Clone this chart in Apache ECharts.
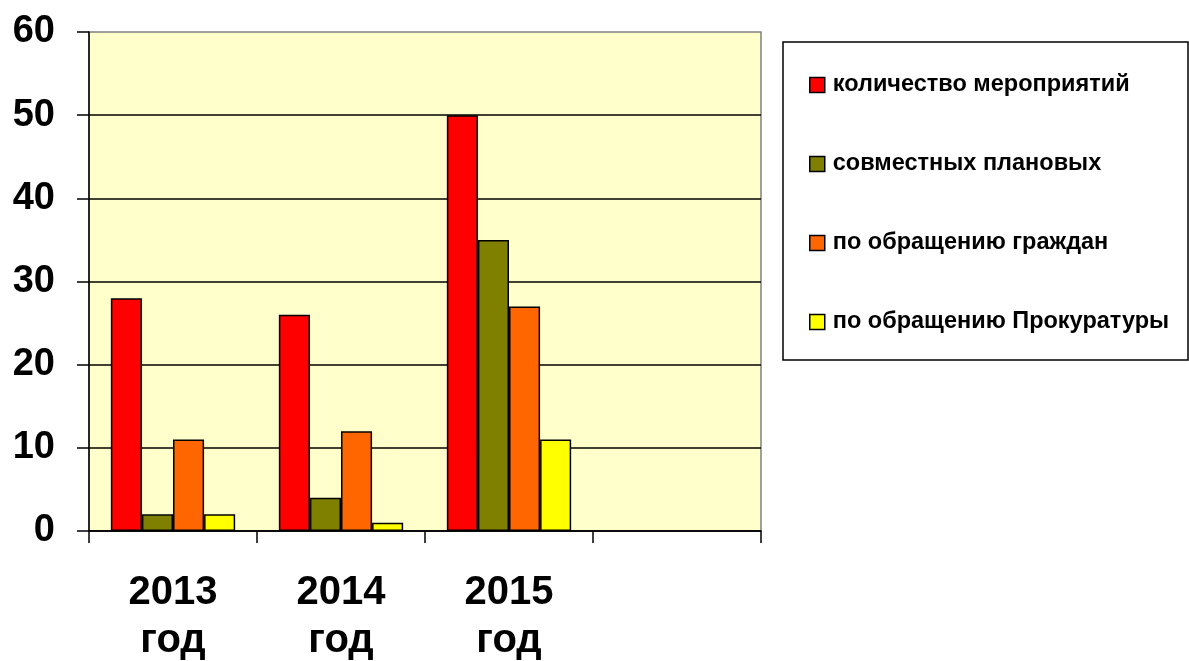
<!DOCTYPE html>
<html lang="ru">
<head>
    <meta charset="UTF-8">
    <title>Мероприятия</title>
    <style>
        html, body { margin: 0; padding: 0; background: #fff; }
        #chart { width: 1189px; height: 661px; }
    </style>
</head>
<body>
<div id="chart"></div>
<script type="text/javascript" src="https://cdn.jsdelivr.net/npm/echarts@6/dist/echarts.min.js"></script>
<script type="text/javascript">
    var categories = ['2013\nгод', '2014\nгод', '2015\nгод', ''];
    var seriesNames = ['количество мероприятий', 'совместных плановых', 'по обращению граждан', 'по обращению Прокуратуры'];
    var events = [28, 26, 50, null];
    var planned = [2, 4, 35, null];
    var citizens = [11, 12, 27, null];
    var prosecutor = [2, 1, 11, null];
    var colors = ['#FF0000', '#808000', '#FF6600', '#FFFF00'];

    var font = 'Liberation Sans, Arial, sans-serif';
    var chart = echarts.init(document.getElementById('chart'), null, {renderer: 'canvas'});

    var makeSeries = function (name, data, color) {
        return {
            name: name,
            type: 'bar',
            data: data,
            barGap: '0%',
            barCategoryGap: '26%',
            itemStyle: {color: color, borderColor: '#000', borderWidth: 1.5}
        };
    };

    chart.setOption({
        animation: false,
        color: colors,
        textStyle: {fontFamily: font},
        grid: {
            left: 89, top: 32, right: 428, bottom: 130,
            outerBoundsMode: 'none',
            containLabel: false,
            show: true, backgroundColor: '#FFFFCC', borderColor: '#808080', borderWidth: 1.5
        },
        graphic: [{
            type: 'rect',
            shape: {x: 783, y: 42, width: 405, height: 318},
            style: {fill: '#fff', stroke: '#000', lineWidth: 1.5},
            z: -1
        }],
        legend: {
            orient: 'vertical',
            left: 809,
            top: 73,
            padding: 0,
            itemWidth: 15,
            itemHeight: 15,
            itemGap: 55,
            icon: 'rect',
            itemStyle: {borderColor: '#000', borderWidth: 1.5},
            textStyle: {fontFamily: font, fontSize: 23.5, fontWeight: 'bold', color: '#000', lineHeight: 23, padding: [0, 0, 0, 3]},
            data: seriesNames
        },
        xAxis: {
            type: 'category',
            data: categories,
            axisLine: {lineStyle: {color: '#000', width: 1.5}},
            axisTick: {show: true, length: 12, lineStyle: {color: '#000', width: 1.5}},
            axisLabel: {
                margin: 38, fontSize: 40, fontWeight: 'bold', color: '#000',
                fontFamily: font, lineHeight: 48
            }
        },
        yAxis: {
            type: 'value',
            min: 0, max: 60, interval: 10,
            axisLine: {show: true, lineStyle: {color: '#000', width: 1.5}},
            axisTick: {show: true, length: 12, lineStyle: {color: '#000', width: 1.5}},
            axisLabel: {margin: 34, fontSize: 38, fontWeight: 'bold', color: '#000', fontFamily: font},
            splitLine: {show: true, showMaxLine: false, lineStyle: {color: '#000', width: 1.5}}
        },
        series: [
            makeSeries(seriesNames[0], events, colors[0]),
            makeSeries(seriesNames[1], planned, colors[1]),
            makeSeries(seriesNames[2], citizens, colors[2]),
            makeSeries(seriesNames[3], prosecutor, colors[3])
        ]
    });
</script>
</body>
</html>
